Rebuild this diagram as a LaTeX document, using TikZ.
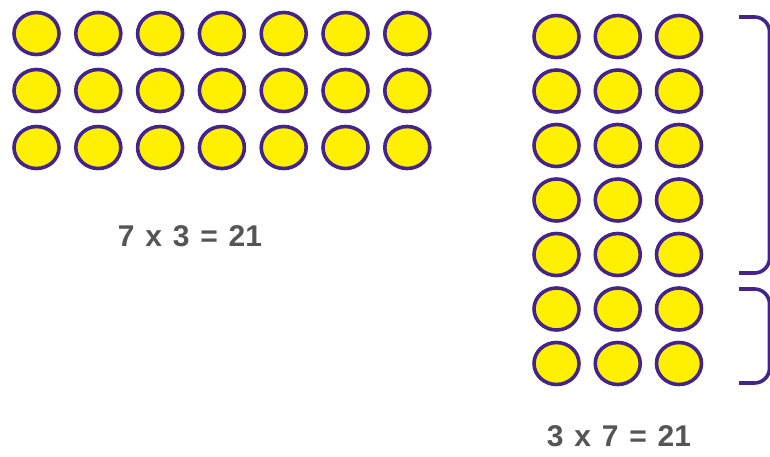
\documentclass[tikz,border=0pt]{standalone}
\usepackage{fontspec}
\setmainfont{Liberation Sans}
\newfontfamily\sumfont[WordSpace=1.3]{Liberation Sans}
\usetikzlibrary{shapes.geometric}
\definecolor{dotfill}{RGB}{255,240,0}
\definecolor{dotline}{RGB}{66,36,140}
\definecolor{labelgray}{RGB}{85,85,85}

\begin{document}
\begin{tikzpicture}[x=1pt, y=-1pt,
    dot/.style={ellipse, draw=dotline, fill=dotfill, line width=3.6pt,
        minimum width=45pt, minimum height=42pt, inner sep=0pt},
    bracket/.style={draw=dotline, line width=3.6pt, rounded corners=15pt},
    sumlabel/.style={text=labelgray, inner sep=1pt, font=\sumfont\fontsize{30}{32}\selectfont\bfseries}]
    \useasboundingbox (0,0) rectangle (770,456);
    % 7 columns, 3 rows
    \foreach \c in {1,...,7} {
        \foreach \r in {1,2,3} {
            \node[dot] (l\c\r) at ({36.5+61.8*(\c-1)},{33.5+57*(\r-1)}) {};
        }
    }
    \node[sumlabel] (lsum) at (190,236) {7 x 3 = 21};
    % 3 columns, 7 rows
    \foreach \c in {1,2,3} {
        \foreach \r in {1,...,7} {
            \node[dot] (r\c\r) at ({556.5+61.25*(\c-1)},{36.5+54.5*(\r-1)}) {};
        }
    }
    \node[sumlabel] (rsum) at (619,436) {3 x 7 = 21};
    % brackets at the right edge
    \draw[bracket] (739,17) -| (769.5,273) -- (739,273);
    \draw[bracket] (739,289) -| (769.5,383) -- (739,383);
\end{tikzpicture}
\end{document}
